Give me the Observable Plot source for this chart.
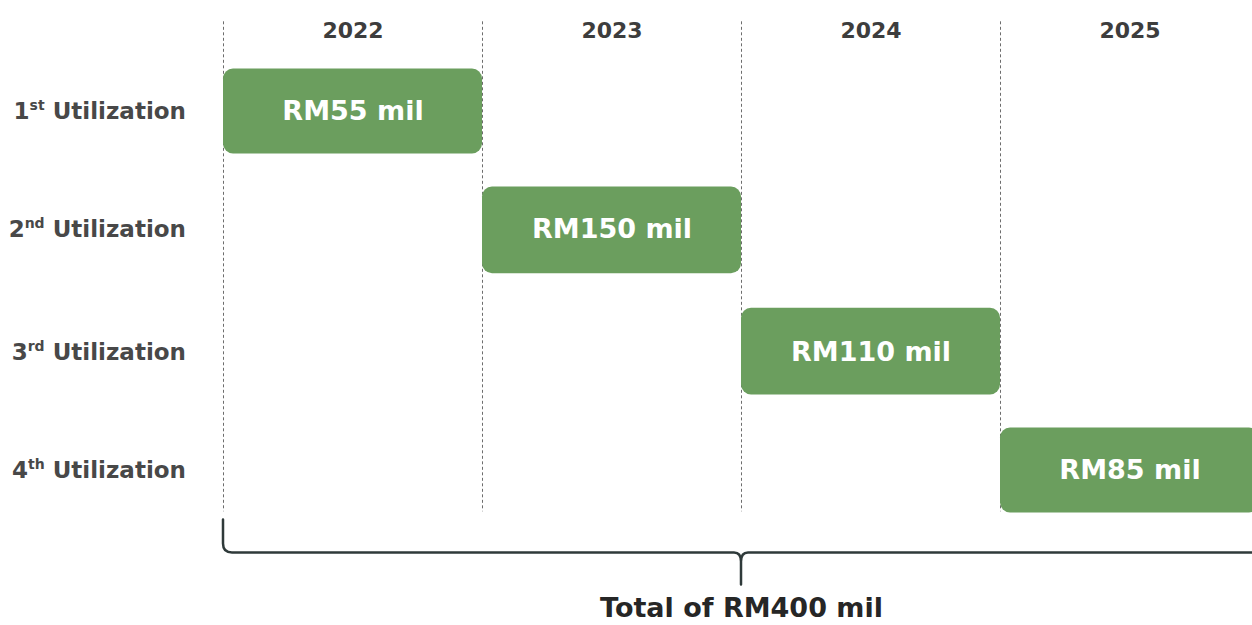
<!DOCTYPE html>
<html><head><meta charset="utf-8">
<script src="https://cdn.jsdelivr.net/npm/d3@7"></script>
<script src="https://cdn.jsdelivr.net/npm/@observablehq/plot@0.6"></script>
<style>
html,body{margin:0;padding:0;background:#fff;overflow:hidden;}
#chart svg{overflow:hidden;display:block;}
</style></head><body><div id="chart"></div>
<script>
const years = ["2022", "2023", "2024", "2025"];
const stages = ["1st Utilization", "2nd Utilization", "3rd Utilization", "4th Utilization"];
const amounts = [55, 150, 110, 85];
const stageYear = [0, 1, 2, 3];
const totalPrefix = "Total of RM";
const unit = " mil";

const bars = stages.map((s, i) => ({stage: s, row: i, col: stageYear[i], label: `RM${amounts[i]}${unit}`}));
const totalLabel = `${totalPrefix}${d3.sum(amounts)}${unit}`;

const FONT = "'DejaVu Sans', sans-serif";
const GREEN = "#6b9e5e";

function bracket(index, scales) {
  const x = scales.x, y = scales.y;
  const xl = x(0), xr = x(years.length), xm = x(2);
  const top = y(3.42), mid = y(3.70), bot = y(3.97);
  const r = 9, c = 7;
  const p = d3.path();
  p.moveTo(xl, top); p.lineTo(xl, mid - r); p.quadraticCurveTo(xl, mid, xl + r, mid);
  p.lineTo(xm - c, mid); p.quadraticCurveTo(xm, mid, xm, mid + c + 2); p.lineTo(xm, bot);
  p.moveTo(xm, mid + c + 2); p.quadraticCurveTo(xm, mid, xm + c, mid);
  p.lineTo(xr - r, mid); p.quadraticCurveTo(xr, mid, xr, mid - r); p.lineTo(xr, top);
  return d3.create("svg:path").attr("d", p.toString()).attr("fill", "none")
    .attr("stroke", "#2f3a3a").attr("stroke-width", 2.5).attr("stroke-linecap", "round").node();
}

const plot = Plot.plot({
  width: 1252, height: 625, margin: 0,
  x: {type: "linear", domain: [0, years.length], range: [223, 1259], axis: null},
  y: {type: "linear", domain: [0, 1, 2, 3], range: [111, 229, 352, 470], axis: null},
  style: {background: "#fff", fontFamily: FONT},
  marks: [
    Plot.ruleX(d3.range(years.length + 1), {y1: -0.76, y2: 3.35, stroke: "#6d6d6d", strokeDasharray: "3,2.5", strokeWidth: 1}),
    Plot.text(years, {x: (d, i) => i + 0.5, y: -0.68, text: d => d, fontSize: 22, fontWeight: "bold", fill: "#3d3d3d"}),
    Plot.rect(bars, {x1: "col", x2: d => d.col + 1, y1: d => d.row - 0.36, y2: d => d.row + 0.36, fill: GREEN, rx: 10}),
    Plot.text(bars, {x: d => d.col + 0.5, y: "row", text: "label", fill: "white", fontSize: 27, fontWeight: "bold"}),
    Plot.text(bars, {x: -0.145, y: "row", text: "stage", textAnchor: "end", fontSize: 23, fontWeight: "bold", fill: "#484848"}),
    bracket,
    Plot.text([totalLabel], {x: 2, y: 4.17, text: d => d, fontSize: 27, fontWeight: "bold", fill: "#262626"})
  ]
});

d3.select(plot).selectAll("text").each(function () {
  const t = this.textContent;
  const m = t.match(/^(\d)(st|nd|rd|th) (.*)$/);
  if (!m) return;
  const s = d3.select(this);
  s.text(null);
  s.append("tspan").text(m[1]);
  s.append("tspan").attr("font-size", 14).attr("dy", -9).text(m[2]);
  s.append("tspan").attr("dy", 9).text(" " + m[3]);
});

document.getElementById("chart").appendChild(plot);
</script></body></html>
